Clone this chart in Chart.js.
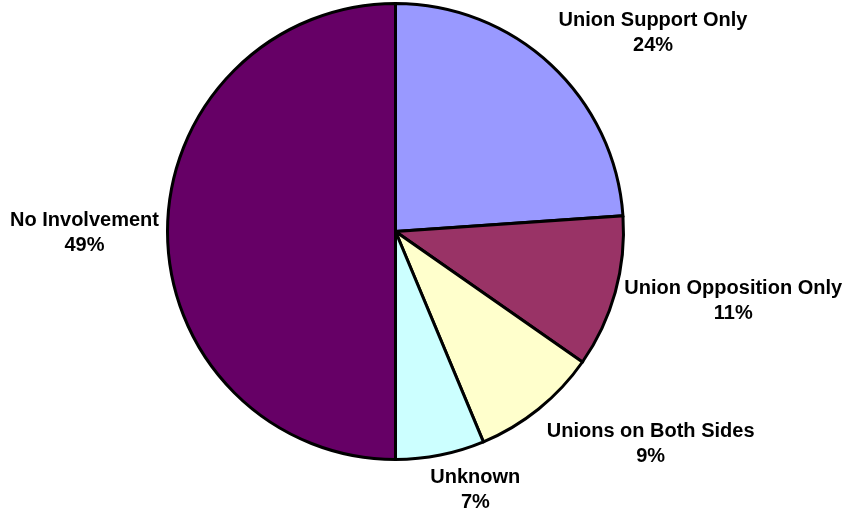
<!DOCTYPE html>
<html>
<head>
<meta charset="utf-8">
<script src="https://cdn.jsdelivr.net/npm/chart.js@4"></script>
<style>
  html, body { margin: 0; padding: 0; background: #ffffff; }
  #wrap { width: 849px; height: 518px; position: relative; }
</style>
</head>
<body>
<div id="wrap"><canvas id="pieChart"></canvas></div>
<script>
const categories = [
  "Union Support Only",
  "Union Opposition Only",
  "Unions on Both Sides",
  "Unknown",
  "No Involvement",
];
// slice sizes
const shares = [23.9, 10.8, 9.0, 6.3, 50.0];
// percentages as printed on the labels
const shareLabels = ["24%", "11%", "9%", "7%", "49%"];
const sliceColors = ["#9999FF", "#993366", "#FFFFCC", "#CCFFFF", "#660066"];

// where each label sits, relative to the slice's outer edge midpoint
const labelNudge = [
  [102, -32],
  [118, 9],
  [112, 35],
  [35, 35],
  [-83, 1.5],
];

const outsideLabels = {
  id: "outsideLabels",
  afterDatasetsDraw(chart) {
    const ctx = chart.ctx;
    const arcs = chart.getDatasetMeta(0).data;
    ctx.save();
    ctx.font = "bold 20px 'Liberation Sans', Arial, sans-serif";
    ctx.fillStyle = "#000000";
    ctx.textAlign = "center";
    ctx.textBaseline = "middle";
    arcs.forEach((arc, i) => {
      const mid = (arc.startAngle + arc.endAngle) / 2;
      const px = arc.x + Math.cos(mid) * arc.outerRadius;
      const py = arc.y + Math.sin(mid) * arc.outerRadius;
      const cx = px + labelNudge[i][0];
      const cy = py + labelNudge[i][1];
      ctx.fillText(categories[i], cx, cy - 12.5);
      ctx.fillText(shareLabels[i], cx, cy + 12.5);
    });
    ctx.restore();
  },
};

new Chart(document.getElementById("pieChart").getContext("2d"), {
  type: "pie",
  data: {
    labels: categories,
    datasets: [
      {
        data: shares,
        backgroundColor: sliceColors,
        borderColor: "#000000",
        borderWidth: 3,
        borderJoinStyle: "miter",
      },
    ],
  },
  options: {
    responsive: true,
    maintainAspectRatio: false,
    animation: false,
    layout: { padding: { left: 166, top: 2, right: 224, bottom: 57 } },
    plugins: {
      legend: { display: false },
      tooltip: { enabled: false },
    },
  },
  plugins: [outsideLabels],
});
</script>
</body>
</html>
